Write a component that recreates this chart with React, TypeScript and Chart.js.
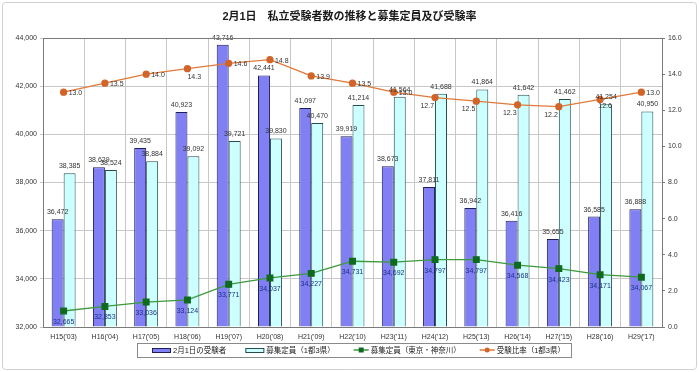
import { useEffect, useRef } from 'react';
import { Chart, registerables } from 'chart.js';

Chart.register(...registerables);

const title = '2月1日　私立受験者数の推移と募集定員及び受験率';
const categories = ["H15('03)", "H16('04)", "H17('05)", "H18('06)", "H19('07)", "H20('08)", "H21('09)", "H22('10)", "H23('11)", "H24('12)", "H25('13)", "H26('14)", "H27('15)", "H28('16)", "H29('17)"];
const applicants = [36472, 38629, 39435, 40923, 43716, 42441, 41097, 39919, 38673, 37811, 36942, 36416, 35655, 36585, 36888];
const capacityAll = [38385, 38524, 38884, 39092, 39721, 39830, 40470, 41214, 41564, 41688, 41864, 41642, 41462, 41254, 40950];
const capacityTokyo = [32665, 32853, 33036, 33124, 33771, 34037, 34227, 34731, 34692, 34797, 34797, 34568, 34423, 34171, 34067];
const ratio = [13.0, 13.5, 14.0, 14.3, 14.6, 14.8, 13.9, 13.5, 13.0, 12.7, 12.5, 12.3, 12.2, 12.6, 13.0];
const seriesNames = ['2月1日の受験者', '募集定員（1都3県）', '募集定員（東京・神奈川）', '受験比率（1都3県）'];

// label placement style for the ratio line (not data)
const ratioLabelPos = ['r', 'r', 'r', 'br', 'r', 'r', 'r', 'r', 'r', 'bl', 'bl', 'bl', 'bl', 'b', 'r'];

const FONT = "'Liberation Sans', 'Noto Sans CJK JP', sans-serif";
const BLUE = '#8080f4';
const BLUE_BORDER = '#1e1e5a';
const CYAN = '#ccffff';
const CYAN_BORDER = '#254f4f';
const GREEN = '#3c9a3c';
const GREEN_PT = '#0f6a1f';
const ORANGE = '#e0793a';
const ORANGE_PT = '#d2642a';

const fmt = (v: number) => v.toLocaleString('en-US');

const decor = {
  id: 'decor',
  beforeDraw(chart: any) {
    const ctx = chart.ctx as CanvasRenderingContext2D;
    ctx.save();
    ctx.fillStyle = '#ffffff';
    ctx.fillRect(0, 0, chart.width, chart.height);
    ctx.strokeStyle = '#d0d0d0';
    ctx.lineWidth = 1;
    ctx.beginPath();
    (ctx as any).roundRect(2.5, 2.5, chart.width - 5, chart.height - 5, 3);
    ctx.stroke();
    ctx.fillStyle = '#1a1a1a';
    ctx.font = `bold 11px ${FONT}`;
    ctx.textAlign = 'center';
    ctx.textBaseline = 'middle';
    ctx.fillText(title, chart.width / 2, 17);
    ctx.restore();
  },
  afterDatasetsDraw(chart: any) {
    const ctx = chart.ctx as CanvasRenderingContext2D;
    ctx.save();
    ctx.font = `7px ${FONT}`;
    ctx.textBaseline = 'middle';
    [0, 1].forEach((di) => {
      const meta = chart.getDatasetMeta(di);
      const data = chart.data.datasets[di].data as number[];
      meta.data.forEach((el: any, i: number) => {
        ctx.fillStyle = '#333333';
        ctx.textAlign = 'center';
        ctx.fillText(fmt(data[i]), el.x, el.y - 7);
      });
    });
    {
      const meta = chart.getDatasetMeta(2);
      const data = chart.data.datasets[2].data as number[];
      meta.data.forEach((el: any, i: number) => {
        ctx.fillStyle = '#1c2f86';
        ctx.textAlign = 'center';
        ctx.fillText(fmt(data[i]), el.x, el.y + 11);
      });
    }
    {
      const meta = chart.getDatasetMeta(3);
      const data = chart.data.datasets[3].data as number[];
      meta.data.forEach((el: any, i: number) => {
        ctx.fillStyle = '#333333';
        const t = data[i].toFixed(1);
        const p = ratioLabelPos[i];
        if (p === 'r') {
          ctx.textAlign = 'left';
          ctx.fillText(t, el.x + 5, el.y + 1);
        } else if (p === 'bl') {
          ctx.textAlign = 'right';
          ctx.fillText(t, el.x - 1, el.y + 8);
        } else if (p === 'br') {
          ctx.textAlign = 'left';
          ctx.fillText(t, el.x, el.y + 8);
        } else {
          ctx.textAlign = 'center';
          ctx.fillText(t, el.x + 5, el.y + 7);
        }
      });
    }
    ctx.restore();
  },
  afterDraw(chart: any) {
    const ctx = chart.ctx as CanvasRenderingContext2D;
    const a = chart.chartArea;
    ctx.save();
    ctx.strokeStyle = '#7a7a7a';
    ctx.lineWidth = 1;
    ctx.strokeRect(Math.round(a.left) + 0.5, Math.round(a.top) + 0.5, Math.round(a.right - a.left), Math.round(a.bottom - a.top));

    // legend
    ctx.font = `7.5px ${FONT}`;
    ctx.textBaseline = 'middle';
    ctx.textAlign = 'left';
    const cy = 350;
    const iconW = [19, 19, 15, 15];
    const widths = seriesNames.map((n) => ctx.measureText(n).width);
    const gapIcon = 2;
    const gapItem = 19;
    let total = 0;
    seriesNames.forEach((_, i) => {
      total += iconW[i] + gapIcon + widths[i];
      if (i < seriesNames.length - 1) total += gapItem;
    });
    const centerX = 359;
    let x = Math.round(centerX - total / 2);
    const boxL = x - 15;
    const boxR = x + total + 6;
    ctx.strokeStyle = '#8a8a8a';
    ctx.strokeRect(boxL + 0.5, cy - 7 + 0.5, boxR - boxL, 14);
    seriesNames.forEach((n, i) => {
      if (i === 0 || i === 1) {
        ctx.fillStyle = i === 0 ? BLUE : CYAN;
        ctx.strokeStyle = i === 0 ? BLUE_BORDER : CYAN_BORDER;
        ctx.fillRect(x, cy - 2, iconW[i], 4);
        ctx.strokeRect(x + 0.5, cy - 2 + 0.5, iconW[i] - 1, 4);
      } else {
        const lc = i === 2 ? GREEN : ORANGE;
        const pc = i === 2 ? GREEN_PT : ORANGE_PT;
        ctx.strokeStyle = lc;
        ctx.lineWidth = 1.5;
        ctx.beginPath();
        ctx.moveTo(x, cy);
        ctx.lineTo(x + iconW[i], cy);
        ctx.stroke();
        ctx.lineWidth = 1;
        ctx.fillStyle = pc;
        if (i === 2) {
          ctx.fillRect(x + iconW[i] / 2 - 2.5, cy - 2.5, 5, 5);
        } else {
          ctx.beginPath();
          ctx.arc(x + iconW[i] / 2, cy, 2.5, 0, Math.PI * 2);
          ctx.fill();
        }
      }
      x += iconW[i] + gapIcon;
      ctx.fillStyle = '#222222';
      ctx.fillText(n, x, cy + 0.5);
      x += widths[i] + gapItem;
    });
    ctx.restore();
  },
};

export default function App() {
  const ref = useRef<HTMLCanvasElement>(null);
  useEffect(() => {
    document.body.style.margin = '0';
    if (!ref.current) return;
    const chart = new Chart(ref.current, {
      type: 'bar',
      data: {
        labels: categories,
        datasets: [
          {
            type: 'bar',
            label: seriesNames[0],
            data: applicants,
            backgroundColor: BLUE,
            borderColor: BLUE_BORDER,
            borderWidth: 1,
            yAxisID: 'y',
            order: 2,
            categoryPercentage: 0.58,
            barPercentage: 1.0,
            base: 32000,
          } as any,
          {
            type: 'bar',
            label: seriesNames[1],
            data: capacityAll,
            backgroundColor: CYAN,
            borderColor: CYAN_BORDER,
            borderWidth: 1,
            yAxisID: 'y',
            order: 2,
            categoryPercentage: 0.58,
            barPercentage: 1.0,
            base: 32000,
          } as any,
          {
            type: 'line',
            label: seriesNames[2],
            data: capacityTokyo,
            borderColor: GREEN,
            borderWidth: 1.3,
            backgroundColor: GREEN_PT,
            pointBackgroundColor: GREEN_PT,
            pointBorderColor: GREEN_PT,
            pointStyle: 'rect',
            pointRadius: 4,
            tension: 0,
            yAxisID: 'y',
            order: 1,
          } as any,
          {
            type: 'line',
            label: seriesNames[3],
            data: ratio,
            borderColor: ORANGE,
            borderWidth: 1.3,
            backgroundColor: ORANGE_PT,
            pointBackgroundColor: ORANGE_PT,
            pointBorderColor: ORANGE_PT,
            pointStyle: 'circle',
            pointRadius: 3,
            tension: 0,
            yAxisID: 'y1',
            order: 0,
          } as any,
        ],
      },
      options: {
        responsive: true,
        maintainAspectRatio: false,
        animation: false,
        layout: { padding: { top: 38, bottom: 30, left: 0, right: 0 } },
        plugins: {
          legend: { display: false },
          title: { display: false },
          tooltip: { enabled: false },
        },
        scales: {
          x: {
            offset: true,
            grid: { offset: true, color: '#c8c8c8', drawTicks: false },
            border: { display: false },
            ticks: { color: '#333', font: { size: 7, family: FONT }, padding: 6, maxRotation: 0, autoSkip: false },
            afterFit: (s: any) => { s.height = 15; },
          },
          y: {
            position: 'left',
            min: 32000,
            max: 44000,
            grid: { color: '#c8c8c8', tickLength: 3 },
            border: { display: false },
            ticks: {
              stepSize: 2000,
              color: '#333',
              font: { size: 7, family: FONT },
              padding: 3,
              callback: (v: any) => fmt(Number(v)),
            },
            afterFit: (s: any) => { s.width = 43; },
          },
          y1: {
            position: 'right',
            min: 0,
            max: 16,
            grid: { drawOnChartArea: false, tickLength: 3, color: '#7a7a7a' },
            border: { display: false },
            ticks: {
              stepSize: 2,
              color: '#333',
              font: { size: 7, family: FONT },
              padding: 3,
              callback: (v: any) => Number(v).toFixed(1),
            },
            afterFit: (s: any) => { s.width = 37; },
          },
        },
      } as any,
      plugins: [decor],
    });
    return () => chart.destroy();
  }, []);
  return (
    <div style={{ width: 699, height: 372, position: 'relative' }}>
      <canvas ref={ref} />
    </div>
  );
}
